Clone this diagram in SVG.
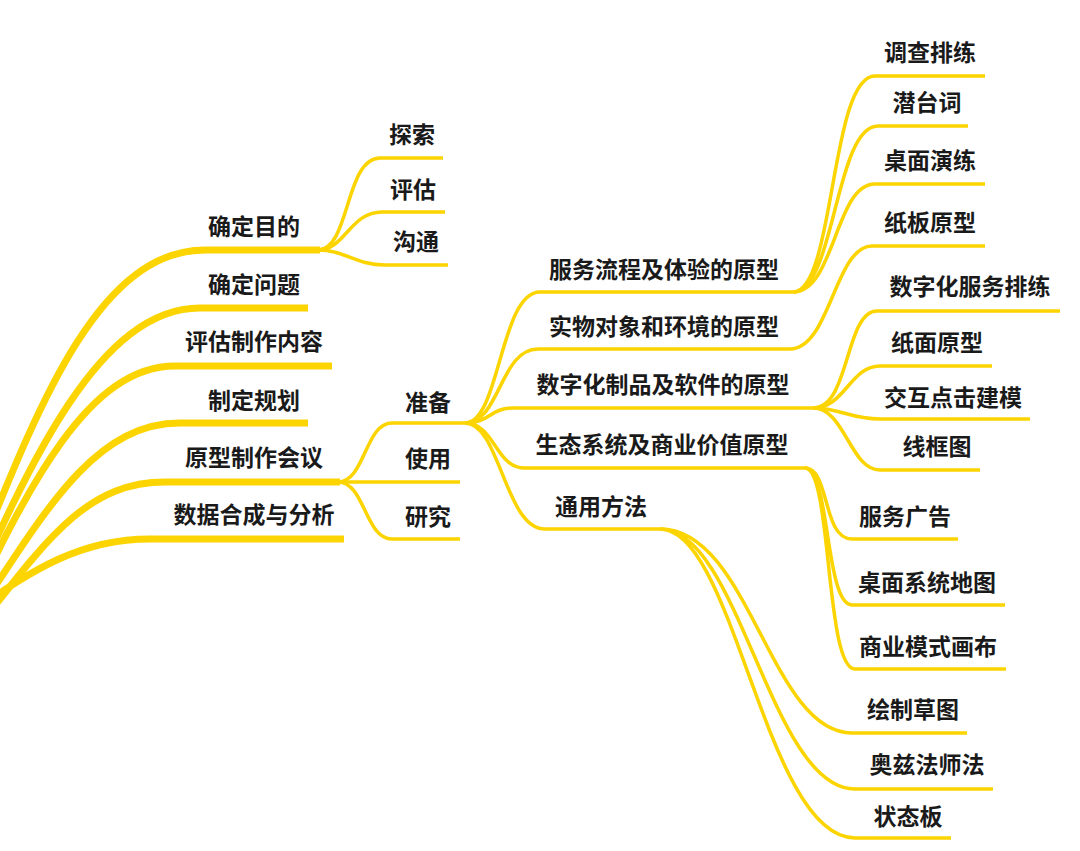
<svg xmlns="http://www.w3.org/2000/svg" width="1080" height="851" viewBox="0 0 1080 851">
<style>
.t{font-family:"Noto Sans CJK SC","Noto Sans",sans-serif;font-weight:700;font-size:23px;fill:#1a1a1a;text-anchor:middle}
.l1{fill:none;stroke:#FCD400;stroke-width:7;stroke-linecap:butt}
.l2{fill:none;stroke:#FCD400;stroke-width:3.5;stroke-linecap:butt}
</style>
<rect width="1080" height="851" fill="#ffffff"/>
<g id="connectors">
<path class="l1" d="M -40,600 C 30,430 90,250 205,250 L 320,250"/>
<path class="l1" d="M -40,620 C 30,460 100,308 200,308 L 308,308"/>
<path class="l1" d="M -40,630 C 30,480 90,366 175,366 L 332,366"/>
<path class="l1" d="M -40,640 C 40,520 90,423 180,423 L 308,423"/>
<path class="l1" d="M -40,650 C 40,550 80,482 165,482 L 340,482"/>
<path class="l1" d="M -40,620 C 20,580 70,539 150,539 L 344,539"/>
<path class="l2" d="M 318,250 C 350,250 345,158 380,158 L 443,158"/>
<path class="l2" d="M 318,250 C 345,250 350,212 382,212 L 445,212"/>
<path class="l2" d="M 318,250 C 345,250 355,265 385,265 L 448,265"/>
<path class="l2" d="M 338,482 C 365,482 365,423 392,423 L 465,423"/>
<path class="l2" d="M 338,482 L 460,482"/>
<path class="l2" d="M 338,482 C 365,482 365,539 392,539 L 460,539"/>
<path class="l2" d="M 465,423 C 500,423 500,292 540,292 L 793,292"/>
<path class="l2" d="M 465,423 C 500,423 500,349 538,349 L 790,349"/>
<path class="l2" d="M 465,423 C 490,423 490,408 513,408 L 813,408"/>
<path class="l2" d="M 465,423 C 495,423 495,468 525,468 L 805,468"/>
<path class="l2" d="M 465,423 C 500,423 505,529 545,529 L 660,529"/>
<path class="l2" d="M 793,292 C 835,292 830,76 875,76 L 985,76"/>
<path class="l2" d="M 793,292 C 835,292 835,126 878,126 L 968,126"/>
<path class="l2" d="M 793,292 C 835,292 835,184 875,184 L 985,184"/>
<path class="l2" d="M 790,349 C 830,349 835,246 872,246 L 985,246"/>
<path class="l2" d="M 813,408 C 850,408 845,311 877,311 L 1060,311"/>
<path class="l2" d="M 813,408 C 845,408 850,366 880,366 L 992,366"/>
<path class="l2" d="M 813,408 C 840,408 850,419 880,419 L 1030,419"/>
<path class="l2" d="M 813,408 C 845,408 850,470 880,470 L 980,470"/>
<path class="l2" d="M 805,468 C 830,468 822,539 852,539 L 958,539"/>
<path class="l2" d="M 805,468 C 830,468 825,605 852,605 L 1005,605"/>
<path class="l2" d="M 805,468 C 832,468 825,669 855,669 L 1006,669"/>
<path class="l2" d="M 660,529 C 750,529 770,733 852,733 L 967,733"/>
<path class="l2" d="M 660,529 C 740,529 770,789 855,789 L 993,789"/>
<path class="l2" d="M 660,529 C 735,529 765,838 855,838 L 951,838"/>
</g>
<g id="n-mudi"><text class="t" x="254" y="235">确定目的</text></g>
<g id="n-wenti"><text class="t" x="254" y="293">确定问题</text></g>
<g id="n-pinggu-neirong"><text class="t" x="254" y="350">评估制作内容</text></g>
<g id="n-guihua"><text class="t" x="254" y="409">制定规划</text></g>
<g id="n-huiyi"><text class="t" x="254" y="466">原型制作会议</text></g>
<g id="n-shuju"><text class="t" x="254" y="523">数据合成与分析</text></g>
<g id="n-tansuo"><text class="t" x="412" y="143">探索</text></g>
<g id="n-pinggu"><text class="t" x="413" y="198">评估</text></g>
<g id="n-goutong"><text class="t" x="416" y="250">沟通</text></g>
<g id="n-zhunbei"><text class="t" x="428" y="411">准备</text></g>
<g id="n-shiyong"><text class="t" x="428" y="467">使用</text></g>
<g id="n-yanjiu"><text class="t" x="428" y="525">研究</text></g>
<g id="n-fuwu"><text class="t" x="664" y="278">服务流程及体验的原型</text></g>
<g id="n-shiwu"><text class="t" x="664" y="335">实物对象和环境的原型</text></g>
<g id="n-shuzi"><text class="t" x="663" y="393">数字化制品及软件的原型</text></g>
<g id="n-shengtai"><text class="t" x="662" y="453">生态系统及商业价值原型</text></g>
<g id="n-tongyong"><text class="t" x="601" y="515">通用方法</text></g>
<g id="n-diaocha"><text class="t" x="930" y="61">调查排练</text></g>
<g id="n-qiantaici"><text class="t" x="927" y="111">潜台词</text></g>
<g id="n-zhuomian-yanlian"><text class="t" x="930" y="169">桌面演练</text></g>
<g id="n-zhiban"><text class="t" x="930" y="231">纸板原型</text></g>
<g id="n-shuzi-fuwu"><text class="t" x="970" y="295">数字化服务排练</text></g>
<g id="n-zhimian"><text class="t" x="937" y="351">纸面原型</text></g>
<g id="n-jiaohu"><text class="t" x="953" y="406">交互点击建模</text></g>
<g id="n-xiankuang"><text class="t" x="937" y="455">线框图</text></g>
<g id="n-guanggao"><text class="t" x="905" y="525">服务广告</text></g>
<g id="n-ditu"><text class="t" x="927" y="591">桌面系统地图</text></g>
<g id="n-huabu"><text class="t" x="928" y="655">商业模式画布</text></g>
<g id="n-caotu"><text class="t" x="913" y="718">绘制草图</text></g>
<g id="n-aozi"><text class="t" x="927" y="773">奥兹法师法</text></g>
<g id="n-zhuangtai"><text class="t" x="908" y="825">状态板</text></g>
</svg>
